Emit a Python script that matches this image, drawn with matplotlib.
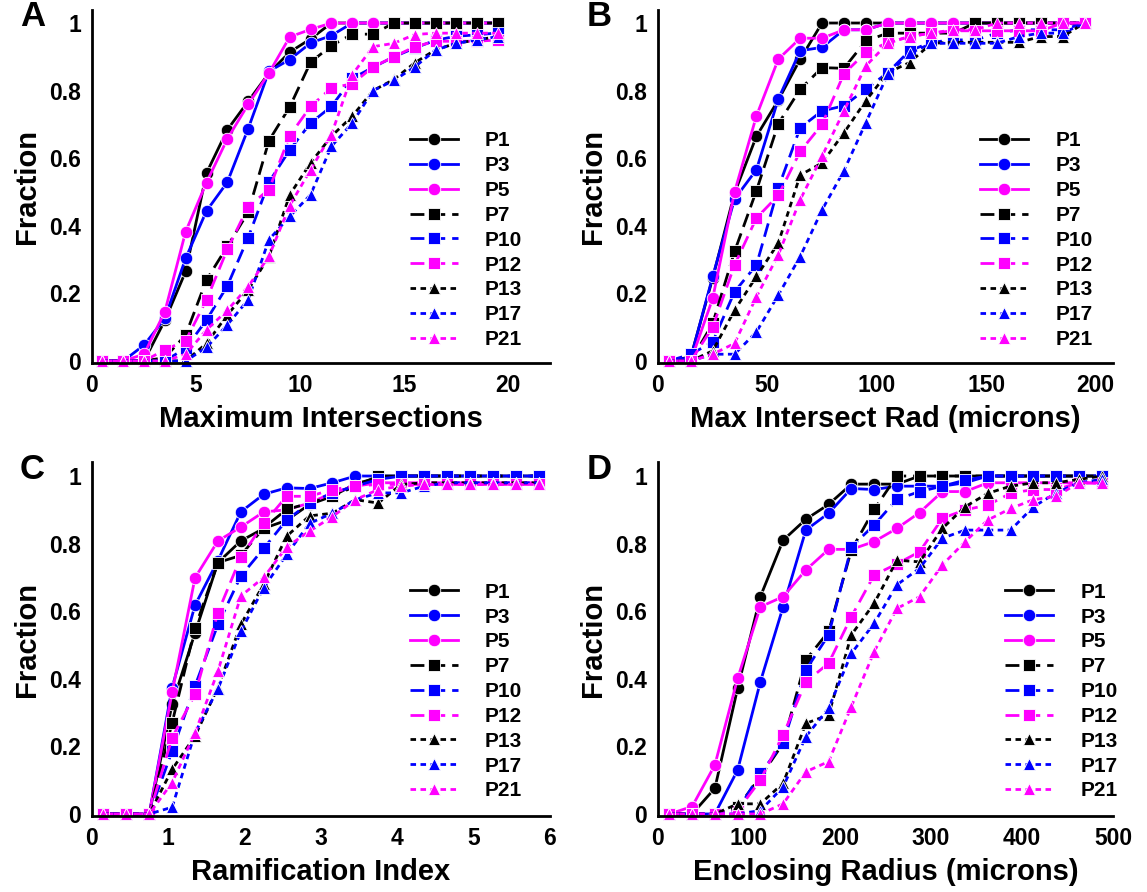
import matplotlib
matplotlib.use('Agg')
import matplotlib.pyplot as plt
import numpy as np

plt.rcParams['font.family'] = ['Liberation Sans', 'DejaVu Sans']
plt.rcParams['font.weight'] = 'bold'

labels = ['P1', 'P3', 'P5', 'P7', 'P10', 'P12', 'P13', 'P17', 'P21']

# A: Maximum Intersections
xa = np.arange(20) + 0.5
a_p1 = [0, 0, 0, 0.12, 0.265, 0.556, 0.684, 0.768, 0.852, 0.914, 0.953, 1, 1, 1, 1, 1, 1, 1, 1, 1]
a_p3 = [0, 0, 0.047, 0.126, 0.304, 0.444, 0.529, 0.687, 0.857, 0.892, 0.941, 0.963, 1, 1, 1, 1, 1, 1, 1, 1]
a_p5 = [0, 0, 0.02, 0.146, 0.383, 0.528, 0.657, 0.759, 0.852, 0.959, 0.981, 1, 1, 1, 1, 1, 1, 1, 1, 1]
a_p7 = [0, 0, 0, 0.01, 0.077, 0.24, 0.339, 0.44, 0.652, 0.752, 0.884, 0.933, 0.967, 0.967, 1, 1, 1, 1, 1, 1]
a_p10 = [0, 0, 0, 0, 0.038, 0.121, 0.222, 0.365, 0.529, 0.625, 0.704, 0.753, 0.836, 0.869, 0.90, 0.926, 0.949, 0.961, 0.965, 0.971]
a_p12 = [0, 0, 0, 0.033, 0.06, 0.181, 0.33, 0.457, 0.507, 0.667, 0.753, 0.808, 0.82, 0.87, 0.90, 0.93, 0.946, 0.946, 0.946, 0.95]
a_p13 = [0, 0, 0, 0, 0, 0.052, 0.136, 0.21, 0.309, 0.492, 0.586, 0.665, 0.724, 0.80, 0.833, 0.882, 0.921, 0.94, 0.95, 0.96]
a_p17 = [0, 0, 0, 0, 0, 0.04, 0.107, 0.181, 0.359, 0.428, 0.492, 0.635, 0.704, 0.80, 0.83, 0.87, 0.92, 0.94, 0.95, 0.96]
a_p21 = [0, 0, 0, 0, 0.02, 0.092, 0.15, 0.22, 0.31, 0.46, 0.566, 0.67, 0.847, 0.93, 0.94, 0.966, 0.97, 0.97, 0.97, 0.97]

# B: Max Intersect Rad
xb = np.arange(20) * 10 + 5
b_p1 = [0, 0.012, 0.245, 0.497, 0.665, 0.772, 0.893, 1, 1, 1, 1, 1, 1, 1, 1, 1, 1, 1, 1, 1]
b_p3 = [0, 0.01, 0.25, 0.479, 0.566, 0.775, 0.918, 0.928, 0.98, 0.98, 1, 1, 1, 1, 1, 1, 1, 1, 1, 1]
b_p5 = [0, 0, 0.185, 0.50, 0.725, 0.893, 0.955, 0.955, 0.98, 0.98, 1, 1, 1, 1, 1, 1, 1, 1, 1, 1]
b_p7 = [0, 0, 0.111, 0.324, 0.504, 0.702, 0.804, 0.868, 0.866, 0.947, 0.97, 0.97, 0.97, 0.97, 1, 1, 1, 1, 1, 1]
b_p10 = [0, 0.02, 0.056, 0.205, 0.284, 0.512, 0.69, 0.74, 0.755, 0.804, 0.853, 0.918, 0.943, 0.95, 0.95, 0.97, 0.98, 0.98, 0.98, 1]
b_p12 = [0, 0, 0.1, 0.284, 0.423, 0.49, 0.62, 0.70, 0.85, 0.913, 0.942, 0.96, 0.97, 0.977, 0.977, 0.977, 0.977, 0.977, 1, 1]
b_p13 = [0, 0, 0.03, 0.15, 0.25, 0.349, 0.55, 0.586, 0.675, 0.77, 0.853, 0.883, 0.94, 0.943, 0.943, 0.943, 0.943, 0.96, 0.96, 1]
b_p17 = [0, 0, 0.02, 0.02, 0.086, 0.195, 0.309, 0.447, 0.563, 0.705, 0.848, 0.91, 0.94, 0.94, 0.94, 0.94, 0.96, 0.97, 0.97, 1]
b_p21 = [0, 0, 0.02, 0.052, 0.19, 0.314, 0.477, 0.606, 0.74, 0.873, 0.94, 0.96, 0.97, 0.98, 0.98, 1, 1, 1, 1, 1]

# C: Ramification Index
xc = np.arange(20) * 0.3 + 0.15
c_p1 = [0, 0, 0, 0.325, 0.536, 0.744, 0.808, 0.845, 0.869, 0.916, 0.94, 0.977, 0.995, 1, 1, 1, 1, 1, 1, 1]
c_p3 = [0, 0, 0, 0.374, 0.618, 0.75, 0.894, 0.946, 0.965, 0.963, 0.98, 1, 1, 1, 1, 1, 1, 1, 1, 1]
c_p5 = [0, 0, 0, 0.36, 0.699, 0.808, 0.849, 0.894, 0.90, 0.92, 0.95, 0.97, 0.98, 0.98, 0.98, 0.98, 0.98, 0.98, 0.98, 0.98]
c_p7 = [0, 0, 0, 0.27, 0.551, 0.744, 0.765, 0.847, 0.901, 0.92, 0.94, 0.97, 1, 1, 1, 1, 1, 1, 1, 1]
c_p10 = [0, 0, 0, 0.186, 0.379, 0.561, 0.704, 0.786, 0.87, 0.92, 0.95, 0.97, 0.99, 1, 1, 1, 1, 1, 1, 1]
c_p12 = [0, 0, 0, 0.226, 0.354, 0.596, 0.76, 0.86, 0.94, 0.94, 0.96, 0.97, 0.975, 0.975, 0.975, 0.975, 0.975, 0.975, 0.975, 0.975]
c_p13 = [0, 0, 0, 0.132, 0.231, 0.374, 0.561, 0.68, 0.822, 0.882, 0.89, 0.93, 0.92, 0.975, 0.98, 0.98, 0.98, 0.98, 0.98, 0.98]
c_p17 = [0, 0, 0, 0.02, 0.24, 0.37, 0.54, 0.67, 0.768, 0.86, 0.89, 0.93, 0.95, 0.95, 0.97, 0.98, 0.98, 0.98, 0.98, 0.98]
c_p21 = [0, 0, 0, 0.093, 0.24, 0.423, 0.645, 0.70, 0.79, 0.837, 0.88, 0.93, 0.96, 0.97, 0.975, 0.975, 0.975, 0.975, 0.975, 0.975]

# D: Enclosing Radius
xd = np.arange(20) * 25 + 12.5
d_p1 = [0, 0, 0.076, 0.372, 0.643, 0.81, 0.872, 0.916, 0.976, 0.976, 0.976, 1, 1, 1, 1, 1, 1, 1, 1, 1]
d_p3 = [0, 0, 0, 0.13, 0.391, 0.613, 0.84, 0.89, 0.963, 0.96, 0.97, 0.97, 0.97, 0.98, 1, 1, 1, 1, 1, 1]
d_p5 = [0, 0.022, 0.145, 0.401, 0.613, 0.643, 0.722, 0.783, 0.783, 0.806, 0.845, 0.892, 0.954, 0.954, 0.98, 0.98, 0.98, 0.98, 0.98, 0.978]
d_p7 = [0, 0, 0, 0.02, 0.11, 0.209, 0.456, 0.54, 0.781, 0.901, 1, 1, 1, 1, 1, 1, 1, 1, 1, 1]
d_p10 = [0, 0, 0, 0.01, 0.12, 0.21, 0.426, 0.53, 0.79, 0.855, 0.931, 0.954, 0.97, 0.988, 1, 1, 1, 1, 1, 1]
d_p12 = [0, 0, 0, 0.01, 0.1, 0.234, 0.391, 0.446, 0.584, 0.707, 0.74, 0.776, 0.875, 0.9, 0.914, 0.949, 0.96, 0.96, 0.98, 0.98]
d_p13 = [0, 0, 0, 0.03, 0.03, 0.091, 0.268, 0.293, 0.53, 0.623, 0.751, 0.746, 0.845, 0.909, 0.949, 0.97, 0.98, 0.98, 0.99, 1]
d_p17 = [0, 0, 0, 0, 0.01, 0.08, 0.229, 0.313, 0.475, 0.564, 0.678, 0.727, 0.816, 0.84, 0.84, 0.84, 0.909, 0.95, 0.98, 0.99]
d_p21 = [0, 0, 0, 0, 0, 0.03, 0.125, 0.155, 0.318, 0.48, 0.608, 0.643, 0.737, 0.806, 0.87, 0.904, 0.93, 0.94, 0.98, 0.98]

# стиль каждой серии: цвет, маркер, штрих
colors = ['black', 'blue', 'magenta'] * 3
markers = ['o'] * 3 + ['s'] * 3 + ['^'] * 3
dashes = [None] * 3 + [(5, 2.5)] * 3 + [(2, 1.6)] * 3


def draw_panel(rect, x, series, xlim, xticks, xlabel, letter, leg_pos):
    ax = fig.add_axes(rect)
    for y, lab, c, m, d in zip(series, labels, colors, markers, dashes):
        line, = ax.plot(x, y, color=c, marker=m, lw=2, ms=9 if m != 's' else 8.5,
                        mec='white', mew=0.6, label=lab, clip_on=False)
        if d is not None:
            line.set_dashes(d)
    ax.set_xlim(*xlim)
    ax.set_ylim(-0.006, 1.04)
    ax.set_xticks(xticks)
    ax.set_yticks([0, 0.2, 0.4, 0.6, 0.8, 1])
    ax.set_yticklabels(['0', '0.2', '0.4', '0.6', '0.8', '1'])
    ax.tick_params(length=0, labelsize=16.5, pad=8)
    for s in ['top', 'right']:
        ax.spines[s].set_visible(False)
    for s in ['left', 'bottom']:
        ax.spines[s].set_linewidth(2)
    ax.set_xlabel(xlabel, fontsize=21, fontweight='bold', labelpad=6)
    ax.set_ylabel('Fraction', fontsize=21, fontweight='bold', labelpad=6)
    ax.legend(loc='upper left', bbox_to_anchor=leg_pos, frameon=False,
              fontsize=15, handlelength=2.3, handletextpad=1.3,
              labelspacing=0.28, borderpad=0, borderaxespad=0)
    ax.text(-0.13, 0.98, letter, transform=ax.transAxes, fontsize=25,
            fontweight='bold', ha='center', va='center')
    return ax


fig = plt.figure(figsize=(11.47, 8.92), dpi=100)
W, H = 1147, 892


def rect(x0, x1, ybot):
    return [x0 / W, 1 - ybot / H, (x1 - x0) / W, 353.5 / H]


draw_panel(rect(92, 550, 363), xa, [a_p1, a_p3, a_p5, a_p7, a_p10, a_p12, a_p13, a_p17, a_p21],
           (0, 22), [0, 5, 10, 15, 20], 'Maximum Intersections', 'A', (0.694, 0.655))
draw_panel(rect(658, 1113, 363), xb, [b_p1, b_p3, b_p5, b_p7, b_p10, b_p12, b_p13, b_p17, b_p21],
           (0, 208), [0, 50, 100, 150, 200], 'Max Intersect Rad (microns)', 'B', (0.708, 0.655))
draw_panel(rect(92, 550, 816), xc, [c_p1, c_p3, c_p5, c_p7, c_p10, c_p12, c_p13, c_p17, c_p21],
           (0, 6), [0, 1, 2, 3, 4, 5, 6], 'Ramification Index', 'C', (0.694, 0.66))
draw_panel(rect(658, 1113, 816), xd, [d_p1, d_p3, d_p5, d_p7, d_p10, d_p12, d_p13, d_p17, d_p21],
           (0, 496), [0, 100, 200, 300, 400, 500], 'Enclosing Radius (microns)', 'D', (0.763, 0.66))

plt.savefig('out.png', dpi=100)
